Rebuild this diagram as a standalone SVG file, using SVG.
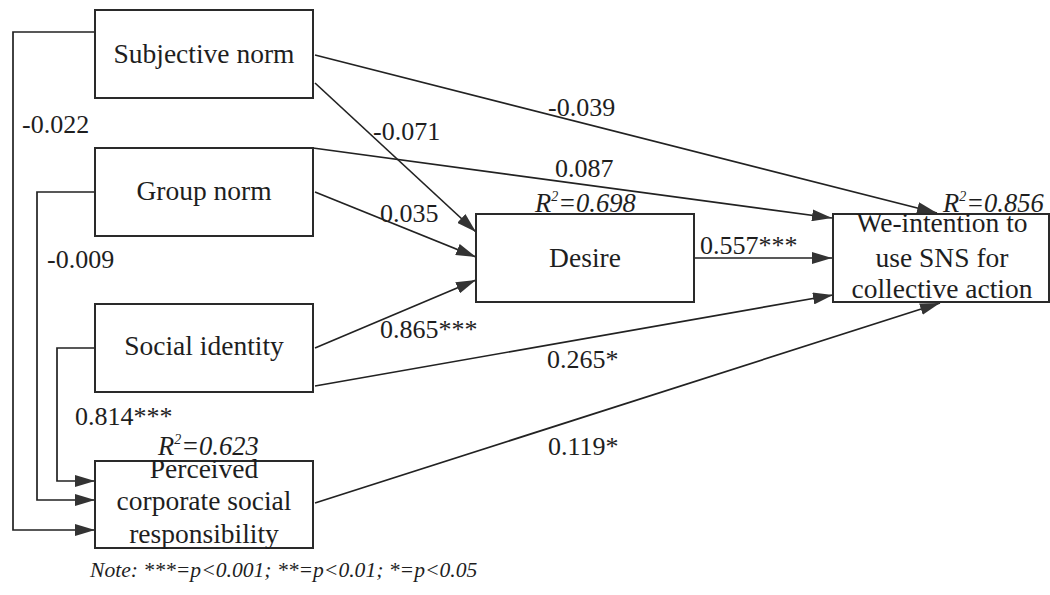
<svg xmlns="http://www.w3.org/2000/svg" width="1050" height="595" viewBox="0 0 1050 595">
<defs>
<style>
.box{fill:#fff;stroke:#2a2a2a;stroke-width:2}
text{font-family:'Liberation Serif','DejaVu Serif',serif;fill:#1e1e1e}
.nt{font-size:27.5px;text-anchor:middle}
.lb{font-size:26px}
.r2{font-size:26.5px;font-style:italic}
.note{font-size:21.6px;font-style:italic}
.ed{fill:none;stroke:#222;stroke-width:1.7;marker-end:url(#ah)}
</style>
<marker id="ah" viewBox="0 0 20 12" refX="20" refY="6" markerWidth="20" markerHeight="12" markerUnits="userSpaceOnUse" orient="auto">
<path d="M0,0 L20,6 L0,12 z" fill="#333"/>
</marker>
</defs>
<rect width="1050" height="595" fill="#fff"/>
<g id="connectors">
<path class="ed" d="M95,32 H13 V530 H95"/>
<path class="ed" d="M95,192 H37 V500 H95"/>
<path class="ed" d="M95,348 H57 V481 H95"/>
<path class="ed" d="M315,55 L937,213"/>
<path class="ed" d="M315,83 L476,232"/>
<path class="ed" d="M313,148 L832,218"/>
<path class="ed" d="M315,192 L476,257"/>
<path class="ed" d="M315,348 L476,280"/>
<path class="ed" d="M694,258 L832,258"/>
<path class="ed" d="M315,386 L833,295"/>
<path class="ed" d="M315,503 L940,303"/>
</g>
<g id="labels">
<text class="lb" x="22" y="133">-0.022</text>
<text class="lb" x="47" y="268">-0.009</text>
<text class="lb" x="75" y="425">0.814***</text>
<text class="lb" x="373" y="140">-0.071</text>
<text class="lb" x="380" y="222">0.035</text>
<text class="lb" x="548" y="116">-0.039</text>
<text class="lb" x="555" y="177">0.087</text>
<text class="lb" x="700" y="254">0.557***</text>
<text class="lb" x="380" y="338">0.865***</text>
<text class="lb" x="547" y="368">0.265*</text>
<text class="lb" x="548" y="455">0.119*</text>
<text class="r2" x="535" y="212">R<tspan dy="-11" font-size="14">2</tspan><tspan dy="11">=0.698</tspan></text>
<text class="r2" x="943" y="212">R<tspan dy="-11" font-size="14">2</tspan><tspan dy="11">=0.856</tspan></text>
<text class="r2" x="158" y="455">R<tspan dy="-11" font-size="14">2</tspan><tspan dy="11">=0.623</tspan></text>
<text class="note" x="90" y="577">Note: ***=p&lt;0.001; **=p&lt;0.01; *=p&lt;0.05</text>
</g>
<g id="subjective-norm">
<rect class="box" x="95" y="10" width="218" height="88"/>
<text class="nt" x="204" y="63">Subjective norm</text>
</g>
<g id="group-norm">
<rect class="box" x="95" y="148" width="218" height="88"/>
<text class="nt" x="204" y="200">Group norm</text>
</g>
<g id="social-identity">
<rect class="box" x="95" y="304" width="218" height="88"/>
<text class="nt" x="204" y="355">Social identity</text>
</g>
<g id="pcsr">
<rect class="box" x="95" y="461" width="218" height="87"/>
<text class="nt" x="204" y="478">Perceived</text>
<text class="nt" x="204" y="510">corporate social</text>
<text class="nt" x="204" y="543">responsibility</text>
</g>
<g id="desire">
<rect class="box" x="476" y="214" width="218" height="88"/>
<text class="nt" x="585" y="267">Desire</text>
</g>
<g id="we-intention">
<rect class="box" x="833" y="214" width="216" height="88"/>
<text class="nt" x="942" y="232">We-intention to</text>
<text class="nt" x="942" y="267">use SNS for</text>
<text class="nt" x="942" y="298">collective action</text>
</g>
</svg>
